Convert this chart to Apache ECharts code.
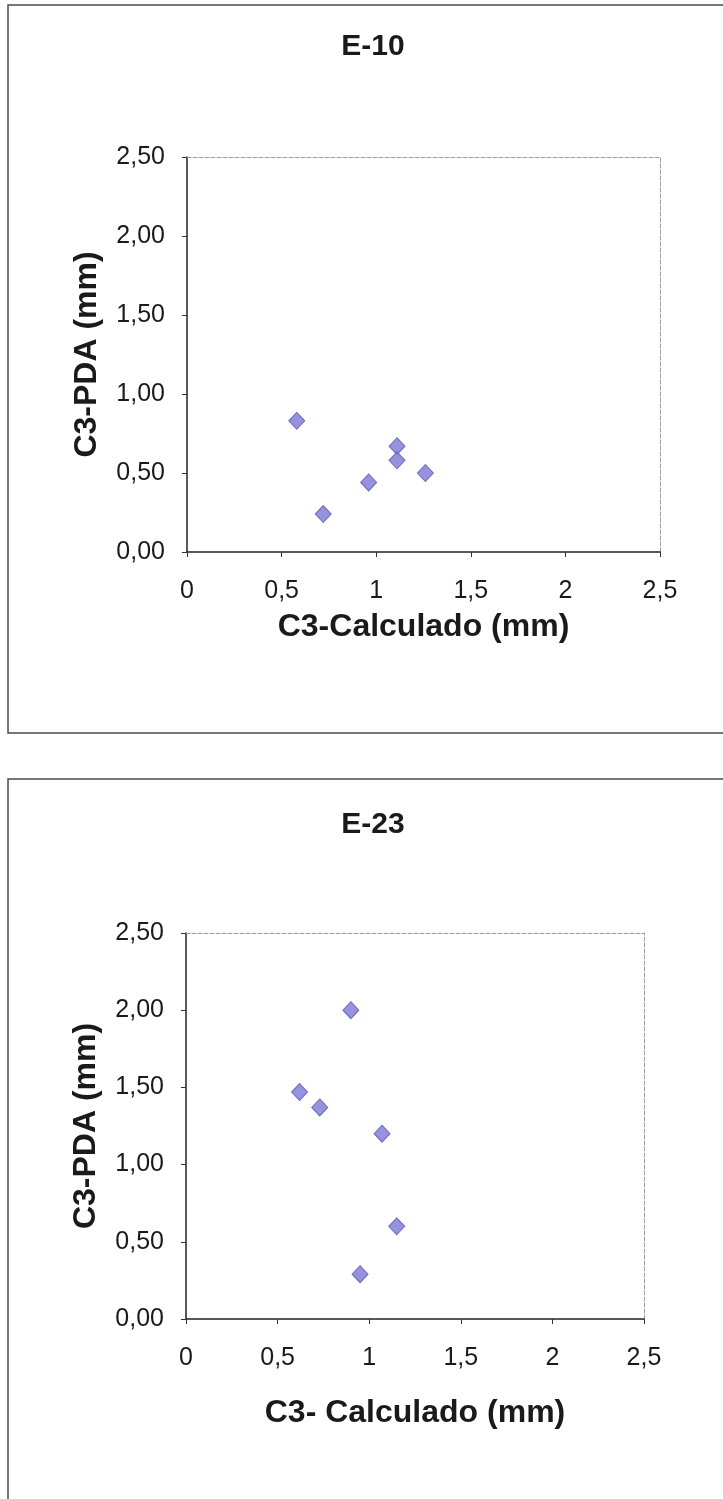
<!DOCTYPE html>
<html>
<head>
<meta charset="utf-8">
<script src="https://cdn.jsdelivr.net/npm/echarts@6/dist/echarts.min.js"></script>
<style>
  html, body { margin: 0; padding: 0; background: #ffffff; }
  #chart { width: 723px; height: 1499px; }
</style>
</head>
<body>
<div id="chart"></div>
<script>
// Chart titles
const chartTitles = ['E-10', 'E-23'];
// Axis titles
const xTitles = ['C3-Calculado (mm)', 'C3- Calculado (mm)'];
const yTitle = 'C3-PDA (mm)';

// E-10: calculated vs PDA values (mm)
const e10Calc = [0.58, 0.72, 0.96, 1.11, 1.11, 1.26];
const e10Pda  = [0.83, 0.24, 0.44, 0.67, 0.58, 0.50];

// E-23: calculated vs PDA values (mm)
const e23Calc = [0.90, 0.62, 0.73, 1.07, 1.15, 0.95];
const e23Pda  = [2.00, 1.47, 1.37, 1.20, 0.60, 0.29];

// Axis ranges and tick step
const axisMin = 0, axisMax = 2.5, axisStep = 0.5;

const FONT = '"Liberation Sans", Arial, sans-serif';
const TEXT = '#1a1a1a';

const pairs = (xs, ys) => xs.map((x, i) => [x, ys[i]]);
const comma = (v, d) => v.toFixed(d).replace('.', ',');
const xFmt = v => String(Math.round(v * 10) / 10).replace('.', ',');

const grids = [
  { left: 187, top: 157, width: 473, height: 395 },
  { left: 186, top: 933, width: 458, height: 386 }
];

const xAxes = [], yAxes = [], series = [];
grids.forEach((g, i) => {
  // bottom value axis
  xAxes.push({
    type: 'value', gridIndex: i, min: axisMin, max: axisMax, interval: axisStep,
    position: 'bottom',
    name: xTitles[i], nameLocation: 'middle', nameGap: i === 0 ? 59 : 78,
    nameTextStyle: { fontFamily: FONT, fontSize: 32, fontWeight: 'bold', color: TEXT },
    axisLine: { show: true, onZero: false, lineStyle: { color: '#222', width: 1.5 } },
    axisTick: { show: true, length: 5, lineStyle: { color: '#333', width: 1 } },
    axisLabel: { formatter: xFmt, fontFamily: FONT, fontSize: 25, color: TEXT, margin: 27 },
    splitLine: { show: false }
  });
  // top border of the plot area
  xAxes.push({
    type: 'value', gridIndex: i, min: axisMin, max: axisMax, position: 'top',
    axisLine: { show: true, onZero: false, lineStyle: { color: '#9a9a9a', width: 1, type: 'dashed' } },
    axisTick: { show: false }, axisLabel: { show: false }, splitLine: { show: false }
  });
  // left value axis
  yAxes.push({
    type: 'value', gridIndex: i, min: axisMin, max: axisMax, interval: axisStep,
    position: 'left',
    name: yTitle, nameLocation: 'middle', nameGap: 84, nameRotate: 90,
    nameTextStyle: { fontFamily: FONT, fontSize: 32, fontWeight: 'bold', color: TEXT },
    axisLine: { show: true, onZero: false, lineStyle: { color: '#222', width: 1.5 } },
    axisTick: { show: true, length: 5, lineStyle: { color: '#333', width: 1 } },
    axisLabel: { formatter: v => comma(v, 2), fontFamily: FONT, fontSize: 25, color: TEXT, margin: 22 },
    splitLine: { show: false }
  });
  // right border of the plot area
  yAxes.push({
    type: 'value', gridIndex: i, min: axisMin, max: axisMax, position: 'right',
    axisLine: { show: true, onZero: false, lineStyle: { color: '#9a9a9a', width: 1, type: 'dashed' } },
    axisTick: { show: false }, axisLabel: { show: false }, splitLine: { show: false }
  });
});

const markerStyle = { color: '#7b77d6', borderColor: '#5a55b0', borderWidth: 1 };
[[e10Calc, e10Pda], [e23Calc, e23Pda]].forEach(([xs, ys], i) => {
  series.push({
    type: 'scatter', xAxisIndex: i * 2, yAxisIndex: i * 2,
    symbol: 'diamond', symbolSize: [16, 17],
    itemStyle: markerStyle,
    data: pairs(xs, ys)
  });
});

const chart = echarts.init(document.getElementById('chart'), null, { renderer: 'canvas' });
chart.setOption({
  animation: false,
  backgroundColor: '#ffffff',
  grid: grids.map(g => Object.assign({ containLabel: false }, g)),
  xAxis: xAxes,
  yAxis: yAxes,
  series: series,
  graphic: [
    // outer chart frames
    { type: 'rect', shape: { x: 8, y: 5, width: 740, height: 728 },
      style: { fill: 'none', stroke: '#4a4a4a', lineWidth: 1.5 }, z: -1 },
    { type: 'rect', shape: { x: 8, y: 779, width: 740, height: 760 },
      style: { fill: 'none', stroke: '#4a4a4a', lineWidth: 1.5 }, z: -1 },
    // chart titles
    { type: 'text', x: 373, y: 47,
      style: { text: chartTitles[0], font: 'bold 30px ' + FONT, fill: TEXT, textAlign: 'center', textVerticalAlign: 'middle' } },
    { type: 'text', x: 373, y: 825,
      style: { text: chartTitles[1], font: 'bold 30px ' + FONT, fill: TEXT, textAlign: 'center', textVerticalAlign: 'middle' } }
  ]
});
</script>
</body>
</html>
